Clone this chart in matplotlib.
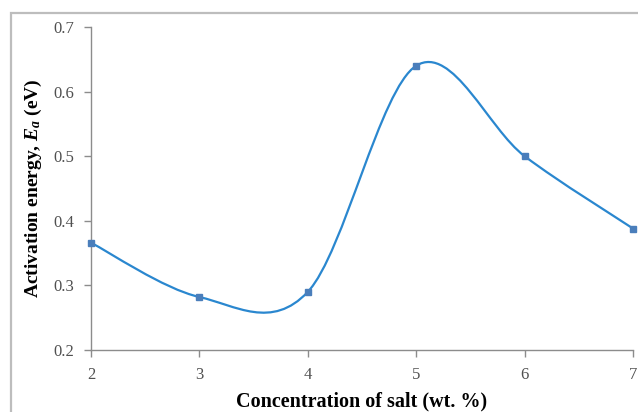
import numpy as np
import matplotlib
matplotlib.use("Agg")
import matplotlib.pyplot as plt
from matplotlib.path import Path
from matplotlib.patches import PathPatch, Rectangle

# dados
concentracao = [2, 3, 4, 5, 6, 7]
energia = [0.366, 0.282, 0.290, 0.640, 0.500, 0.388]

plt.rcParams["font.family"] = "Liberation Serif"
plt.rcParams["mathtext.fontset"] = "custom"
plt.rcParams["mathtext.rm"] = "Liberation Serif:bold"
plt.rcParams["mathtext.it"] = "Liberation Serif:italic:bold"

fig = plt.figure(figsize=(6.38, 4.12), dpi=100)
ax = fig.add_axes([0.1426, 0.1505, 0.8496, 0.784])

# moldura cinza do gráfico (estilo Excel)
fig.patches.append(Rectangle((11 / 638, -0.1), 1.2, 0.9684 + 0.1,
                             transform=fig.transFigure, fill=False,
                             edgecolor="#BDBDBD", linewidth=1.6))

# linha suavizada (Bezier tipo Excel)
pts = np.column_stack([concentracao, energia])
verts = [pts[0]]
codes = [Path.MOVETO]
n = len(pts)
for i in range(n - 1):
    p0 = pts[i - 1] if i > 0 else pts[i]
    p1 = pts[i]
    p2 = pts[i + 1]
    p3 = pts[i + 2] if i + 2 < n else pts[i + 1]
    c1 = p1 + (p2 - p0) / 6
    c2 = p2 - (p3 - p1) / 6
    verts += [c1, c2, p2]
    codes += [Path.CURVE4] * 3
ax.add_patch(PathPatch(Path(verts, codes), facecolor="none",
                       edgecolor="#2A87CF", linewidth=1.6, zorder=2))
ax.plot(concentracao, energia, linestyle="none", marker="s", markersize=5,
        color="#4A7EBB", zorder=3, clip_on=False)

ax.set_xlim(2, 7)
ax.set_ylim(0.2, 0.7)
ax.set_xticks([2, 3, 4, 5, 6, 7])
ax.set_yticks([0.2, 0.3, 0.4, 0.5, 0.6, 0.7])
ax.set_yticklabels(["0.2", "0.3", "0.4", "0.5", "0.6", "0.7"])

for s in ["top", "right"]:
    ax.spines[s].set_visible(False)
for s in ["left", "bottom"]:
    ax.spines[s].set_color("#8C8C8C")
    ax.spines[s].set_linewidth(1.0)
ax.tick_params(direction="out", length=5, width=1.0, color="#8C8C8C",
               labelsize=12, labelcolor="#505050", pad=7)

ax.set_xlabel("Concentration of salt (wt. %)", fontsize=14.5, fontweight="bold",
              labelpad=6)
ax.set_ylabel("Activation energy, $E_a$ (eV)", fontsize=14, fontweight="bold",
              labelpad=7)

fig.savefig("out.png", dpi=100)
